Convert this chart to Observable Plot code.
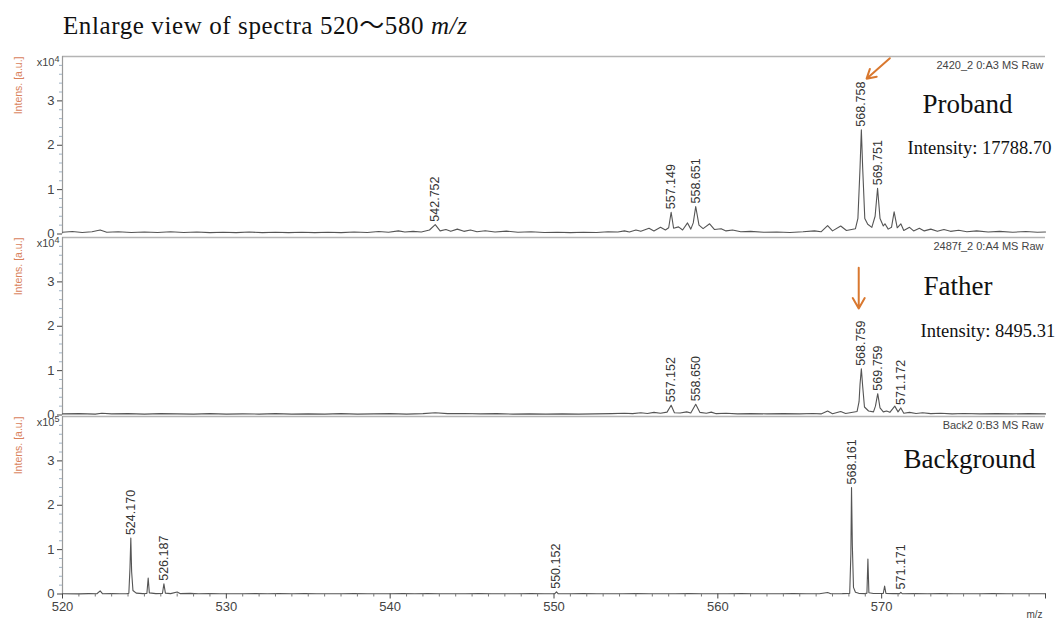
<!DOCTYPE html>
<html><head><meta charset="utf-8">
<script src="https://cdn.jsdelivr.net/npm/d3@7"></script>
<script src="https://cdn.jsdelivr.net/npm/@observablehq/plot@0.6"></script>
<style>
body{margin:0;background:#fff;}
#wrap{position:relative;width:1058px;height:619px;overflow:hidden;background:#fff;}
#title{position:absolute;left:63px;top:11px;font-family:"Liberation Serif","Times New Roman",serif;font-size:25px;line-height:25px;letter-spacing:0.6px;color:#111;white-space:nowrap;}
#title .w{font-family:"Noto Sans CJK JP","Noto Sans CJK SC",serif;}
.panel{position:absolute;left:0;}
</style></head><body>
<div id="wrap"><div id="title">Enlarge view of spectra 520<span class="w">〜</span>580 <i>m/z</i></div></div>
<script>
// ---- data (m/z, intensity in a.u.) ----
const probandTrace = [
[520.0,400],[520.6,550],[521.2,350],[521.8,500],[522.3,900],[522.7,400],[523.4,500],[524.2,350],[525.0,450],[525.8,350],[526.6,500],[527.4,350],[528.2,450],[529.0,300],[529.8,400],[530.6,300],[531.4,450],[532.2,300],[533.0,400],[533.8,300],[534.6,400],[535.4,300],[536.2,400],[537.0,300],[537.8,450],[538.6,350],[539.3,550],[539.9,400],[540.5,700],[540.9,450],[541.4,600],[541.9,450],[542.4,900],[542.75,2100],[543.05,700],[543.4,1000],[543.7,600],[544.1,1100],[544.5,600],[544.9,900],[545.3,500],[545.8,750],[546.4,450],[547.1,650],[547.8,400],[548.6,500],[549.4,350],[550.2,400],[551.0,300],[551.8,400],[552.6,350],[553.3,500],[553.9,450],[554.3,700],[554.6,450],[555.0,900],[555.3,600],[555.8,1300],[556.1,700],[556.5,1500],[556.8,900],[557.0,1400],[557.15,4900],[557.3,1300],[557.6,1600],[557.85,900],[558.15,2500],[558.35,1100],[558.5,2500],[558.65,6200],[558.85,2000],[559.1,1200],[559.5,2300],[559.8,1000],[560.2,1200],[560.5,700],[560.9,900],[561.4,500],[562.0,600],[562.8,400],[563.6,450],[564.4,350],[565.2,500],[565.9,700],[566.3,500],[566.7,1900],[567.0,700],[567.5,1800],[567.85,800],[568.4,1200],[568.55,3500],[568.68,15000],[568.76,23500],[568.84,15000],[568.97,3500],[569.15,2200],[569.4,1500],[569.6,4000],[569.75,10300],[569.9,3500],[570.1,1800],[570.2,2300],[570.4,1100],[570.6,1500],[570.76,5000],[570.95,1400],[571.17,2300],[571.35,800],[571.7,1500],[571.95,700],[572.3,1300],[572.6,700],[573.0,1100],[573.4,600],[573.8,1000],[574.2,600],[574.7,850],[575.2,500],[575.8,700],[576.5,450],[577.2,600],[578.0,400],[578.8,550],[579.5,400],[580.0,450]
];
const fatherTrace = [
[520.0,250],[521.0,300],[522.0,200],[522.4,400],[523.0,250],[524.0,300],[525.0,200],[526.0,300],[527.0,250],[528.0,200],[529.0,300],[530.0,200],[531.0,250],[532.0,200],[533.0,300],[534.0,200],[535.0,250],[536.0,200],[537.0,300],[538.0,200],[539.0,250],[540.0,300],[541.0,200],[542.0,300],[542.75,500],[543.5,300],[544.5,350],[545.5,250],[546.5,300],[547.5,200],[548.5,250],[549.5,200],[550.5,250],[551.5,200],[552.5,250],[553.5,300],[554.3,400],[554.8,300],[555.3,500],[555.7,350],[556.1,600],[556.5,400],[556.9,650],[557.15,2200],[557.35,500],[557.7,450],[558.1,700],[558.35,450],[558.65,2400],[558.9,600],[559.3,400],[559.6,650],[559.9,300],[560.5,400],[561.2,250],[562.0,300],[563.0,250],[564.0,300],[565.0,250],[565.8,350],[566.3,250],[566.7,900],[567.0,300],[567.5,800],[567.8,350],[568.5,800],[568.62,3000],[568.68,7000],[568.76,10400],[568.84,6500],[568.95,1800],[569.2,900],[569.5,700],[569.62,2000],[569.76,4800],[569.9,1600],[570.1,700],[570.3,900],[570.5,600],[570.8,2000],[571.0,700],[571.17,1600],[571.35,400],[571.7,600],[572.1,350],[572.5,500],[573.0,300],[573.6,400],[574.3,250],[575.0,350],[576.0,250],[577.0,300],[578.0,250],[579.0,300],[580.0,250]
];
const backgroundTrace = [
[520.0,600],[521.0,300],[521.6,800],[522.1,500],[522.3,7000],[522.45,500],[523.0,800],[523.5,400],[523.9,600],[524.05,1500],[524.12,60000],[524.17,126000],[524.22,50000],[524.3,8000],[524.5,2000],[524.9,800],[525.15,1000],[525.23,36000],[525.3,2500],[525.7,800],[526.1,1200],[526.19,23000],[526.28,2000],[526.6,800],[527.0,4500],[527.2,800],[527.8,1500],[528.3,500],[529.0,800],[529.6,400],[530.3,700],[531.0,500],[531.8,900],[532.5,400],[533.2,800],[534.0,500],[534.8,1000],[535.5,400],[536.3,700],[537.0,500],[537.8,900],[538.6,500],[539.3,700],[540.0,400],[540.8,800],[541.5,500],[542.3,900],[543.0,400],[543.8,700],[544.6,500],[545.4,800],[546.2,400],[547.0,700],[547.8,500],[548.6,800],[549.4,400],[550.05,800],[550.15,5000],[550.25,800],[551.0,500],[551.8,800],[552.6,400],[553.4,700],[554.2,500],[555.0,900],[555.8,400],[556.6,700],[557.4,500],[558.2,800],[559.0,400],[559.8,700],[560.6,500],[561.4,800],[562.2,400],[563.0,700],[563.8,500],[564.6,800],[565.4,400],[566.2,700],[566.7,3500],[566.9,600],[567.6,900],[568.05,1500],[568.12,90000],[568.16,240000],[568.21,110000],[568.28,15000],[568.4,4000],[568.6,1500],[569.0,900],[569.1,2000],[569.16,79000],[569.22,3000],[569.5,1000],[570.1,1200],[570.18,18000],[570.26,1500],[570.7,900],[571.1,800],[571.17,3500],[571.25,700],[572.0,900],[572.8,500],[573.6,800],[574.4,400],[575.2,700],[576.0,500],[576.8,800],[577.6,400],[578.4,700],[579.2,500],[580.0,600]
];
const probandPeaks = [[542.752,2100],[557.149,4900],[558.651,6200],[568.758,23500],[569.751,10300]];
const fatherPeaks = [[557.152,2200],[558.650,2400],[568.759,10400],[569.759,4800],[571.172,1600]];
const backgroundPeaks = [[524.170,126000],[526.187,23000],[550.152,5000],[568.161,240000],[571.171,3500]];
const runIds = ["2420_2 0:A3 MS Raw", "2487f_2 0:A4 MS Raw", "Back2 0:B3 MS Raw"];
const sampleNames = ["Proband", "Father", "Background"];
const intensityNotes = ["Intensity: 17788.70", "Intensity: 8495.31", ""];
const exponents = [4, 4, 5];
const probandArrow = [{x1: 570.5, y1: 39600, x2: 569.08, y2: 35000}];
const fatherArrow = [{x1: 568.6, y1: 33200, x2: 568.6, y2: 24000}];
const xMajorTicks = [520, 530, 540, 550, 560, 570, 580];
const yMajorTicks = [0, 1, 2, 3];

// ---- drawing ----
const SANS = "'Liberation Sans', Arial, sans-serif";
const SERIF = "'Liberation Serif', 'Times New Roman', serif";
const PANEL_H = 177.5;
const wrap = document.getElementById("wrap");

function drawPanel(i, top, trace, peaks, arrows, xAxis, nameDx, nameDy, nameSize) {
  const exp = exponents[i];
  const s = Math.pow(10, exp);
  const mt = 14, mb = xAxis ? 26 : 6;
  const height = mt + PANEL_H + mb;
  const data = trace.map(([mz, v]) => ({mz, v}));
  const pk = peaks.map(([mz, v]) => ({mz, v, label: mz.toFixed(3)}));
  const minorY = d3.range(0, 4, 0.2).filter(t => Math.abs(t - Math.round(t)) > 1e-6).map(t => t * s);
  const marks = [
    Plot.ruleY([4 * s], {stroke: "#b4b4b4", strokeWidth: 1.3}),
    Plot.ruleX([520], {stroke: "#9a9a9a", strokeWidth: 1.2}),
    Plot.axisY({ticks: minorY, tickSize: 3, text: null, stroke: "#9fb2c4", label: null}),
    Plot.axisY({ticks: yMajorTicks.map(t => t * s), tickSize: 5, tickPadding: 3, tickFormat: d => d / s,
      fontSize: 13, fontFamily: SANS, color: "#444", label: null}),
    Plot.line(data, {x: "mz", y: "v", stroke: "#555", strokeWidth: 1.1}),
    Plot.text(pk, {x: "mz", y: "v", text: "label", rotate: -90, textAnchor: "start", lineAnchor: "middle",
      dy: -3, fontSize: 12.5, fontFamily: SANS, fill: "#333"}),
    Plot.text([runIds[i]], {frameAnchor: "top-right", textAnchor: "end", lineAnchor: "top", dx: -2, dy: 5,
      fontSize: 11, fontFamily: SANS, fill: "#444"}),
    Plot.text([sampleNames[i]], {frameAnchor: "top-left", textAnchor: "start", lineAnchor: "top",
      dx: nameDx, dy: nameDy, fontSize: nameSize, fontFamily: SERIF, fill: "#111"}),
    Plot.text(["Intens. [a.u.]"], {frameAnchor: "top-left", rotate: -90, textAnchor: "end", lineAnchor: "middle",
      dx: -44, dy: 0, fontSize: 10.5, fontFamily: SANS, fill: "#d9825c"}),
    Plot.text(["x10"], {frameAnchor: "top-left", textAnchor: "end", lineAnchor: "top", dx: -8, dy: 2,
      fontSize: 11, fontFamily: SANS, fill: "#444"}),
    Plot.text([String(exp)], {frameAnchor: "top-left", textAnchor: "start", lineAnchor: "top", dx: -8, dy: -1,
      fontSize: 9, fontFamily: SANS, fill: "#444"})
  ];
  if (intensityNotes[i]) {
    marks.push(Plot.text([intensityNotes[i]], {frameAnchor: "top-left", textAnchor: "start", lineAnchor: "top",
      dx: i === 0 ? 845 : 858, dy: i === 0 ? 84 : 86, fontSize: 18.5, fontFamily: SERIF, fill: "#111"}));
  }
  if (arrows) {
    marks.push(Plot.arrow(arrows, {x1: "x1", y1: "y1", x2: "x2", y2: "y2", stroke: "#d9782f",
      strokeWidth: 2, headLength: 9}));
  }
  if (xAxis) {
    const minorX = d3.range(521, 580, 1).filter(t => t % 10 !== 0);
    marks.push(Plot.axisX({ticks: minorX, tickSize: 3, text: null, stroke: "#777", label: null}));
    marks.push(Plot.axisX({ticks: xMajorTicks, tickSize: 5, tickPadding: 3, tickFormat: d => d === 580 ? "" : d,
      fontSize: 13, fontFamily: SANS, color: "#444", label: null}));
    marks.push(Plot.text(["m/z"], {frameAnchor: "bottom-right", textAnchor: "end", lineAnchor: "bottom",
      dx: -3, dy: 24, fontSize: 10, fontFamily: SANS, fill: "#444"}));
  }
  const svg = Plot.plot({
    width: 1058, height,
    marginLeft: 62, marginRight: 13, marginTop: mt, marginBottom: mb,
    x: xAxis ? {domain: [520, 580]} : {domain: [520, 580], axis: null},
    y: {domain: [0, 4 * s]},
    style: {background: "transparent", overflow: "visible", fontFamily: SANS},
    marks
  });
  svg.classList.add("panel");
  svg.style.position = "absolute";
  svg.style.top = (top - mt) + "px";
  svg.style.left = "0px";
  wrap.appendChild(svg);
}

drawPanel(0, 56, probandTrace, probandPeaks, probandArrow, false, 860, 37, 27);
drawPanel(1, 236.5, fatherTrace, fatherPeaks, fatherArrow, false, 861, 38, 27);
drawPanel(2, 415.5, backgroundTrace, backgroundPeaks, null, true, 841, 32, 27);
</script>
</body></html>
